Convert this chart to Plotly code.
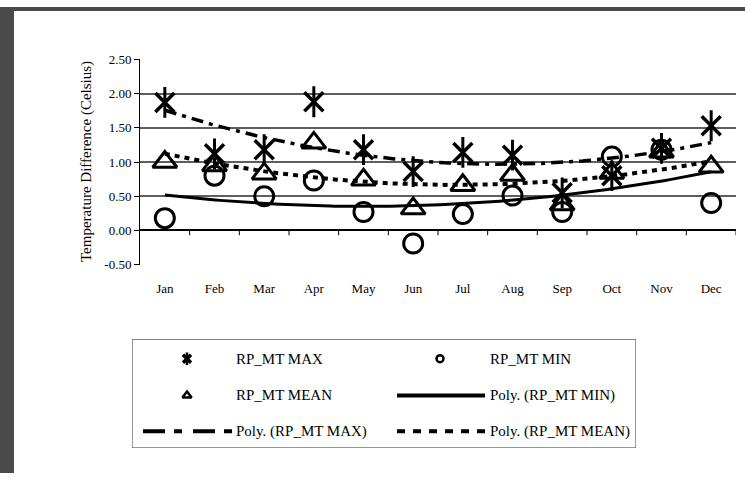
import numpy as np
import plotly.graph_objects as go

# Monthly temperature differences (Celsius)
months = ["Jan", "Feb", "Mar", "Apr", "May", "Jun", "Jul", "Aug", "Sep", "Oct", "Nov", "Dec"]
rp_mt_max = [1.87, 1.12, 1.18, 1.88, 1.18, 0.86, 1.14, 1.10, 0.55, 0.80, 1.20, 1.53]
rp_mt_min = [0.18, 0.80, 0.50, 0.73, 0.27, -0.19, 0.24, 0.51, 0.27, 1.08, 1.18, 0.40]
rp_mt_mean = [1.00, 0.95, 0.83, 1.28, 0.74, 0.32, 0.66, 0.81, 0.38, 0.84, 1.15, 0.93]

y_tick_vals = [-0.5, 0.0, 0.5, 1.0, 1.5, 2.0, 2.5]
y_tick_text = ["-0.50", "0.00", "0.50", "1.00", "1.50", "2.00", "2.50"]

W, H = 745, 481
FONT = "Liberation Serif, Times New Roman, serif"
INK = "black"

x_idx = np.arange(len(months))
x_fine = np.linspace(0, len(months) - 1, 120)


def poly_trend(values, order=2):
    coef = np.polyfit(x_idx, values, order)
    return np.polyval(coef, x_fine)


max_dash = "12px,6px,4px,6px"
mean_dash = "5px,5px"

fig = go.Figure()

# Polynomial trendlines
fig.add_trace(go.Scatter(x=x_fine, y=poly_trend(rp_mt_min), mode="lines",
                         line=dict(color=INK, width=3), hoverinfo="skip"))
fig.add_trace(go.Scatter(x=x_fine, y=poly_trend(rp_mt_mean), mode="lines",
                         line=dict(color=INK, width=4, dash=mean_dash), hoverinfo="skip"))
fig.add_trace(go.Scatter(x=x_fine, y=poly_trend(rp_mt_max), mode="lines",
                         line=dict(color=INK, width=3.5, dash=max_dash), hoverinfo="skip"))

# Observed series
fig.add_trace(go.Scatter(x=x_idx, y=rp_mt_min, mode="markers", name="RP_MT MIN",
                         marker=dict(symbol="circle-open", size=19, color=INK,
                                     line=dict(width=3, color=INK))))
fig.add_trace(go.Scatter(x=x_idx, y=rp_mt_mean, mode="markers", name="RP_MT MEAN",
                         marker=dict(symbol="triangle-up-open", size=21, color=INK,
                                     line=dict(width=3, color=INK))))
# star marker: diagonal cross plus a vertical stroke
fig.add_trace(go.Scatter(x=x_idx, y=rp_mt_max, mode="markers", name="RP_MT MAX",
                         marker=dict(symbol="x-thin-open", size=19, color=INK,
                                     line=dict(width=3.5, color=INK))))
fig.add_trace(go.Scatter(x=x_idx, y=rp_mt_max, mode="markers", hoverinfo="skip",
                         marker=dict(symbol="line-ns-open", size=22, color=INK,
                                     line=dict(width=3, color=INK))))

# ---- legend panel, laid out on an overlay axis measured in pixels ----
LEG_X0, LEG_X1, LEG_Y0, LEG_Y1 = 132, 636, 343, 455
px = dict(xaxis="x2", yaxis="y2", hoverinfo="skip")
leg_rows = [363, 401, 438]
col1_sym, col1_txt = 187, 234
col2_sym, col2_txt = 440, 488

fig.add_trace(go.Scatter(x=[col1_sym], y=[leg_rows[0]], mode="markers",
                         marker=dict(symbol="x-thin-open", size=8, color=INK,
                                     line=dict(width=3.5, color=INK)), **px))
fig.add_trace(go.Scatter(x=[col1_sym], y=[leg_rows[0]], mode="markers",
                         marker=dict(symbol="line-ns-open", size=9, color=INK,
                                     line=dict(width=2.5, color=INK)), **px))
fig.add_trace(go.Scatter(x=[col2_sym], y=[leg_rows[0]], mode="markers",
                         marker=dict(symbol="circle-open", size=7, color=INK,
                                     line=dict(width=2.5, color=INK)), **px))
fig.add_trace(go.Scatter(x=[col1_sym], y=[leg_rows[1]], mode="markers",
                         marker=dict(symbol="triangle-up-open", size=8, color=INK,
                                     line=dict(width=2.5, color=INK)), **px))
fig.add_trace(go.Scatter(x=[397, 485], y=[leg_rows[1]] * 2, mode="lines",
                         line=dict(color=INK, width=4), **px))
fig.add_trace(go.Scatter(x=[143, 232], y=[leg_rows[2]] * 2, mode="lines",
                         line=dict(color=INK, width=4, dash="22px,9px,8px,11px"), **px))
fig.add_trace(go.Scatter(x=[397, 485], y=[leg_rows[2]] * 2, mode="lines",
                         line=dict(color=INK, width=4, dash="8px,8px"), **px))

legend_labels = [
    (col1_txt, leg_rows[0], "RP_MT MAX"),
    (col2_txt, leg_rows[0], "RP_MT MIN"),
    (col1_txt, leg_rows[1], "RP_MT MEAN"),
    (col2_txt, leg_rows[1], "Poly. (RP_MT MIN)"),
    (col1_txt, leg_rows[2], "Poly. (RP_MT MAX)"),
    (col2_txt, leg_rows[2], "Poly. (RP_MT MEAN)"),
]

annotations = [
    dict(x=lx, y=ly, xref="x2", yref="y2", text=t, showarrow=False,
         xanchor="left", yanchor="middle", font=dict(family=FONT, size=15, color=INK))
    for lx, ly, t in legend_labels
]
annotations.append(dict(
    x=86 / W, y=1 - 160 / H, xref="paper", yref="paper",
    text="Temperature Difference (Celsius)", textangle=-90, showarrow=False,
    xanchor="center", yanchor="middle", font=dict(family=FONT, size=15, color=INK)))

shapes = [
    # dark frame strips on the left and top edges
    dict(type="rect", xref="paper", yref="paper", x0=0, x1=14 / W, y0=0, y1=1,
         fillcolor="#4a4a4a", line=dict(width=0), layer="below"),
    dict(type="rect", xref="paper", yref="paper", x0=0, x1=1, y0=1 - 4 / H, y1=1,
         fillcolor="#4a4a4a", line=dict(width=0), layer="below"),
    # legend box
    dict(type="rect", xref="x2", yref="y2", x0=LEG_X0, x1=LEG_X1, y0=LEG_Y0, y1=LEG_Y1,
         line=dict(color="#333", width=1)),
]
# category tick marks hanging below the zero line
for b in np.arange(len(months)) + 0.5:
    shapes.append(dict(type="line", xref="x", yref="y", x0=b, x1=b, y0=0, y1=-0.07,
                       line=dict(color=INK, width=1)))

fig.update_layout(
    width=W, height=H,
    margin=dict(l=0, r=0, t=0, b=0),
    paper_bgcolor="white", plot_bgcolor="white",
    showlegend=False,
    xaxis=dict(domain=[140 / W, 736 / W], range=[-0.5, len(months) - 0.5],
               tickvals=list(x_idx), ticktext=months, ticks="", showgrid=False,
               zeroline=False, showline=False, ticklabelstandoff=14,
               tickfont=dict(family=FONT, size=13, color=INK), fixedrange=True),
    yaxis=dict(domain=[1 - 266 / H, 1 - 54 / H], range=[-0.5, 2.5],
               tickvals=y_tick_vals, ticktext=y_tick_text,
               ticks="outside", ticklen=5, tickcolor=INK, tickwidth=1,
               showline=True, linecolor=INK, linewidth=1,
               showgrid=True, gridcolor="#5e5e5e", gridwidth=1.5,
               zeroline=True, zerolinecolor=INK, zerolinewidth=1.5,
               tickfont=dict(family=FONT, size=13, color=INK), fixedrange=True),
    xaxis2=dict(domain=[LEG_X0 / W, LEG_X1 / W], range=[LEG_X0, LEG_X1],
                visible=False, anchor="y2", fixedrange=True),
    yaxis2=dict(domain=[1 - LEG_Y1 / H, 1 - LEG_Y0 / H], range=[LEG_Y1, LEG_Y0],
                visible=False, anchor="x2", fixedrange=True),
    annotations=annotations,
    shapes=shapes,
)

fig.write_html("out.html")
